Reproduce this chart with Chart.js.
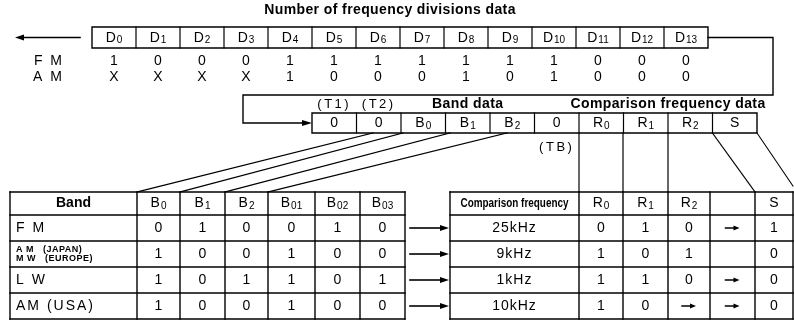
<!DOCTYPE html>
<html>
<head>
<meta charset="utf-8">
<script src="https://cdn.jsdelivr.net/npm/chart.js@4.4.1/dist/chart.umd.min.js"></script>
<style>
    html, body { margin: 0; background: #fff; }
    #wrap { width: 794px; height: 323px; }
</style>
</head>
<body>
<div id="wrap"><canvas id="diagram"></canvas></div>
<script>
// --- data ---
const divisionLabels = ['D0', 'D1', 'D2', 'D3', 'D4', 'D5', 'D6', 'D7', 'D8', 'D9', 'D10', 'D11', 'D12', 'D13'];
const fmDivisions = ['1', '0', '0', '0', '1', '1', '1', '1', '1', '1', '1', '0', '0', '0'];
const amDivisions = ['X', 'X', 'X', 'X', '1', '0', '0', '0', '1', '0', '1', '0', '0', '0'];

const wordLabels = ['0', '0', 'B0', 'B1', 'B2', '0', 'R0', 'R1', 'R2', 'S'];

const bandHeader = ['Band', 'B0', 'B1', 'B2', 'B01', 'B02', 'B03'];
const bandNames = ['F M', 'AM/MW', 'L W', 'AM (USA)'];
const bandBits = [
    ['0', '1', '0', '0', '1', '0'],
    ['1', '0', '0', '1', '0', '0'],
    ['1', '0', '1', '1', '0', '1'],
    ['1', '0', '0', '1', '0', '0']
];

const freqHeader = ['Comparison frequency', 'R0', 'R1', 'R2', '', 'S'];
const freqNames = ['25kHz', '9kHz', '1kHz', '10kHz'];
// '>' marks a cell that holds a small arrow
const freqBits = [
    ['0', '1', '0', '>', '1'],
    ['1', '0', '1', '', '0'],
    ['1', '1', '0', '>', '0'],
    ['1', '0', '>', '>', '0']
];

// --- layout (canvas units) ---
const reg1 = { x0: 92, step: 44, top: 27, bottom: 48 };
const reg2 = { x0: 312, step: 44.5, top: 113, bottom: 133 };
const bandCols = [10, 137, 180, 225, 268, 315, 360, 405];
const freqCols = [450, 579, 623, 668, 710, 755, 793];
const tableRows = [192, 215, 241, 267, 293, 319];
const fanStart = [373, 403, 450, 507];
const fanEnd = [137, 180, 225, 268];

const FONT = '"Liberation Sans", Arial, sans-serif';

const diagramPlugin = {
    id: 'diagram',
    afterDraw(chart) {
        const ctx = chart.ctx;
        const X = v => chart.scales.x.getPixelForValue(v);
        const Y = v => chart.scales.y.getPixelForValue(v);

        ctx.save();
        ctx.strokeStyle = '#000';
        ctx.fillStyle = '#000';
        ctx.lineCap = 'square';

        function line(pts, w) {
            ctx.lineWidth = w || 1.4;
            ctx.beginPath();
            pts.forEach((p, i) => {
                if (i === 0) ctx.moveTo(X(p[0]), Y(p[1]));
                else ctx.lineTo(X(p[0]), Y(p[1]));
            });
            ctx.stroke();
        }

        function head(x, y, dir, len, half) {
            ctx.beginPath();
            ctx.moveTo(X(x), Y(y));
            ctx.lineTo(X(x - dir * len), Y(y - half));
            ctx.lineTo(X(x - dir * len), Y(y + half));
            ctx.closePath();
            ctx.fill();
        }

        function text(str, x, y, font, align, spacing, maxW) {
            ctx.font = font;
            ctx.textAlign = align || 'center';
            ctx.textBaseline = 'middle';
            ctx.letterSpacing = (spacing || 0) + 'px';
            if (maxW) ctx.fillText(str, X(x), Y(y), maxW);
            else ctx.fillText(str, X(x), Y(y));
            ctx.letterSpacing = '0px';
        }

        // letter with subscript, e.g. D10, B01, R2
        function subLabel(str, x, y, size) {
            const main = str.charAt(0);
            const sub = str.slice(1);
            const mf = size + 'px ' + FONT;
            const sf = Math.round(size * 0.72) + 'px ' + FONT;
            ctx.font = mf;
            const mw = ctx.measureText(main).width;
            ctx.font = sf;
            const sw = sub ? ctx.measureText(sub).width + 1 : 0;
            const left = X(x) - (mw + sw) / 2;
            ctx.textAlign = 'left';
            ctx.textBaseline = 'middle';
            ctx.font = mf;
            ctx.fillText(main, left, Y(y));
            if (sub) {
                ctx.font = sf;
                ctx.fillText(sub, left + mw + 1, Y(y) + size * 0.18);
            }
        }

        // title
        text('Number of frequency divisions data', 390, 10, 'bold 14px ' + FONT, 'center', 0.4);

        // register 1
        const r1x1 = reg1.x0 + reg1.step * divisionLabels.length;
        line([[reg1.x0, reg1.top], [r1x1, reg1.top], [r1x1, reg1.bottom], [reg1.x0, reg1.bottom], [reg1.x0, reg1.top]]);
        divisionLabels.forEach((lab, i) => {
            const cx = reg1.x0 + reg1.step * (i + 0.5);
            if (i > 0) line([[reg1.x0 + reg1.step * i, reg1.top], [reg1.x0 + reg1.step * i, reg1.bottom]], 1.2);
            subLabel(lab, cx, (reg1.top + reg1.bottom) / 2 + 0.5, 14);
            text(fmDivisions[i], cx, 61, '14px ' + FONT);
            text(amDivisions[i], cx, 77, '14px ' + FONT);
        });
        text('F M', 64, 61, '14px ' + FONT, 'right', 2);
        text('A M', 64, 77, '14px ' + FONT, 'right', 2);

        // output arrow on the left
        line([[22, 37.5], [80, 37.5]], 1.6);
        head(15, 37.5, -1, 9, 3);

        // connector from D13 round to register 2
        const r2x1 = reg2.x0 + reg2.step * wordLabels.length;
        const r2mid = (reg2.top + reg2.bottom) / 2;
        line([[r1x1, 37.5], [773, 37.5], [773, 95], [243, 95], [243, r2mid], [reg2.x0 - 8, r2mid]], 1.4);
        head(reg2.x0, r2mid, 1, 10, 3);

        // register 2
        line([[reg2.x0, reg2.top], [r2x1, reg2.top], [r2x1, reg2.bottom], [reg2.x0, reg2.bottom], [reg2.x0, reg2.top]]);
        wordLabels.forEach((lab, i) => {
            if (i > 0) line([[reg2.x0 + reg2.step * i, reg2.top], [reg2.x0 + reg2.step * i, reg2.bottom]], 1.2);
            subLabel(lab, reg2.x0 + reg2.step * (i + 0.5), r2mid + 0.5, 14);
        });
        const c2 = i => reg2.x0 + reg2.step * (i + 0.5);
        text('(T1)', c2(0), 104, '13px ' + FONT, 'center', 2.5);
        text('(T2)', c2(1), 104, '13px ' + FONT, 'center', 2.5);
        text('Band data', c2(3), 104, 'bold 14px ' + FONT, 'center', 0.4);
        text('Comparison frequency data', (c2(6) + c2(9)) / 2, 104, 'bold 14px ' + FONT, 'center', 0.4);
        text('(TB)', c2(5), 147, '13px ' + FONT, 'center', 2.5);

        // fan lines to the band table
        fanStart.forEach((sx, i) => line([[sx, reg2.bottom], [fanEnd[i], tableRows[0]]], 1.2));
        // drop lines to the frequency table
        [1, 2, 3].forEach(i => line([[freqCols[i], reg2.bottom], [freqCols[i], tableRows[0]]], 1.2));
        line([[reg2.x0 + reg2.step * 9, reg2.bottom], [freqCols[5], tableRows[0]]], 1.1);
        line([[r2x1, reg2.bottom], [freqCols[6], tableRows[0] - 6]], 1.1);

        // tables
        function grid(cols, rows) {
            rows.forEach(y => line([[cols[0], y], [cols[cols.length - 1], y]], 1.4));
            cols.forEach(x => line([[x, rows[0]], [x, rows[rows.length - 1]]], 1.4));
        }
        grid(bandCols, tableRows);
        grid(freqCols, tableRows);

        const rowMid = r => (tableRows[r] + tableRows[r + 1]) / 2;
        const colMid = (cols, c) => (cols[c] + cols[c + 1]) / 2;

        // band table header and rows
        text(bandHeader[0], colMid(bandCols, 0), rowMid(0), 'bold 14px ' + FONT);
        for (let c = 1; c < bandHeader.length; c++) {
            subLabel(bandHeader[c], colMid(bandCols, c), rowMid(0), 14);
        }
        bandNames.forEach((name, r) => {
            const y = rowMid(r + 1);
            if (name === 'AM/MW') {
                text('A M   (JAPAN)', 16, y - 4.5, 'bold 9px ' + FONT, 'left', 0.5);
                text('M W   (EUROPE)', 16, y + 4.5, 'bold 9px ' + FONT, 'left', 0.5);
            } else {
                text(name, 16, y, '14px ' + FONT, 'left', 2);
            }
            bandBits[r].forEach((b, c) => text(b, colMid(bandCols, c + 1), y, '14px ' + FONT));
            // arrow between tables
            line([[410, y], [440, y]], 1.6);
            head(449, y, 1, 9, 3);
        });

        // frequency table header and rows
        text(freqHeader[0], colMid(freqCols, 0), rowMid(0), 'bold 12px ' + FONT, 'center', 0, 108);
        for (let c = 1; c < freqHeader.length; c++) {
            if (freqHeader[c]) subLabel(freqHeader[c], colMid(freqCols, c), rowMid(0), 14);
        }
        freqNames.forEach((name, r) => {
            const y = rowMid(r + 1);
            text(name, colMid(freqCols, 0), y, '14px ' + FONT, 'center', 1);
            freqBits[r].forEach((b, c) => {
                const cx = colMid(freqCols, c + 1);
                if (b === '>') {
                    line([[cx - 7, y], [cx + 2, y]], 1.5);
                    head(cx + 7, y, 1, 6, 2.5);
                } else if (b) {
                    text(b, cx, y, '14px ' + FONT);
                }
            });
        });

        ctx.restore();
    }
};

const ctx = document.getElementById('diagram').getContext('2d');
new Chart(ctx, {
    type: 'scatter',
    data: { datasets: [{ data: [], pointRadius: 0 }] },
    options: {
        responsive: true,
        maintainAspectRatio: false,
        animation: false,
        layout: { padding: 0 },
        plugins: { legend: { display: false }, tooltip: { enabled: false } },
        scales: {
            x: { type: 'linear', min: 0, max: 794, display: false },
            y: { type: 'linear', min: 0, max: 323, reverse: true, display: false }
        }
    },
    plugins: [diagramPlugin]
});
</script>
</body>
</html>
